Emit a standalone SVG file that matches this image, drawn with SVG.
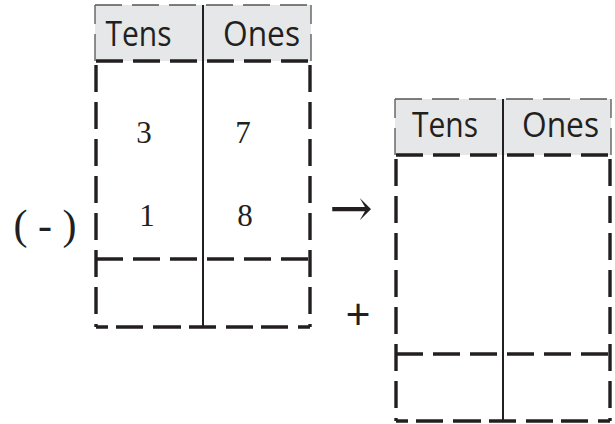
<svg xmlns="http://www.w3.org/2000/svg" width="615" height="424" viewBox="0 0 615 424">
<style>
.bg{fill:#ffffff}
.hdr{fill:#e6e7e8}
.thin{fill:none;stroke:#555;stroke-width:1.3;stroke-dasharray:27 10}
.dash{fill:none;stroke:#231f20;stroke-width:3.4;stroke-dasharray:27 10}
.bot{stroke-dasharray:12 8 27 10 28 8 27 10 27 8 27 10}
.solid{fill:none;stroke:#231f20;stroke-width:2}
.h{font-family:"Open Sans","Liberation Sans",sans-serif;font-size:34px;fill:#231f20;text-anchor:middle}
.d{font-family:"Liberation Serif","DejaVu Serif",serif;font-size:31px;fill:#231f20;text-anchor:middle}
.s{font-family:"Liberation Serif","DejaVu Serif",serif;fill:#231f20}
</style>
<rect class="bg" x="0" y="0" width="615" height="424"/>
<g id="table-1">
  <rect class="hdr" x="95" y="5" width="216" height="56"/>
  <path class="thin" d="M95 5 H311"/>
  <path class="thin" d="M95 61 V5"/>
  <path class="thin" d="M311 61 V5"/>
  <path class="dash" d="M96 61 H312"/>
  <path class="dash" d="M96 65 V327"/>
  <path class="dash" d="M310 65 V327"/>
  <path class="dash" d="M96 259 H312"/>
  <path class="dash bot" d="M96 327 H310"/>
  <path class="solid" d="M203 5 V327"/>
  <text class="h" x="138.5" y="46" textLength="66" lengthAdjust="spacingAndGlyphs">Tens</text>
  <text class="h" x="261.5" y="46" textLength="77" lengthAdjust="spacingAndGlyphs">Ones</text>
  <text class="d" x="144" y="143">3</text>
  <text class="d" x="243" y="143">7</text>
  <text class="d" x="147" y="226">1</text>
  <text class="d" x="245" y="226">8</text>
</g>
<g id="table-2">
  <rect class="hdr" x="395" y="99" width="216" height="56"/>
  <path class="thin" d="M395 99 H611"/>
  <path class="thin" d="M395 155 V99"/>
  <path class="thin" d="M611 155 V99"/>
  <path class="dash" d="M396 155 H612"/>
  <path class="dash" d="M396 159 V421"/>
  <path class="dash" d="M610 159 V421"/>
  <path class="dash" d="M396 354 H612"/>
  <path class="dash bot" d="M396 421 H610"/>
  <path class="solid" d="M503 99 V421"/>
  <text class="h" x="445" y="137" textLength="66" lengthAdjust="spacingAndGlyphs">Tens</text>
  <text class="h" x="560.5" y="137" textLength="77" lengthAdjust="spacingAndGlyphs">Ones</text>
</g>
<g id="minus-label">
  <text class="s" x="45" y="239" font-size="42" text-anchor="middle">( - )</text>
</g>
<g id="plus-label">
  <text x="358" y="330" font-family="'Open Sans','Liberation Sans',sans-serif" font-size="44" fill="#231f20" text-anchor="middle">+</text>
</g>
<g id="connectors">
  <text x="351" y="226" font-family="'DejaVu Serif','Liberation Serif',serif" font-size="52" fill="#231f20" text-anchor="middle">→</text>
</g>
</svg>
